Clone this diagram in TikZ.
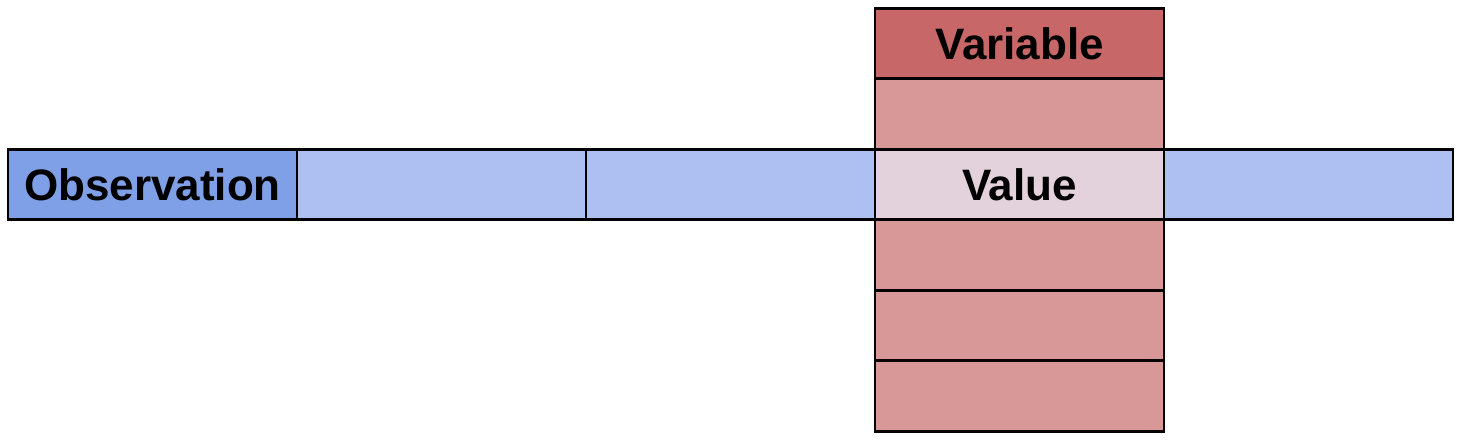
\documentclass[tikz,border=0pt]{standalone}
\usepackage{fontspec}
\setmainfont{Liberation Sans}
\usepackage{tikz}
\usetikzlibrary{positioning}
\definecolor{obsblue}{HTML}{7F9FE6}
\definecolor{rowblue}{HTML}{ADC0F1}
\definecolor{varred}{HTML}{C76767}
\definecolor{colred}{HTML}{D99898}
\definecolor{valpink}{HTML}{E3D1DB}

\begin{document}
\begin{tikzpicture}[
    x=1pt, y=1pt,
    cell/.style={draw=black, line width=2.6pt, outer sep=0pt, inner sep=0pt, minimum width=289pt, minimum height=70.5pt, font=\fontsize{44}{48}\selectfont\bfseries},
    rowcell/.style={cell, fill=rowblue},
    obscell/.style={cell, fill=obsblue},
    colcell/.style={cell, fill=colred},
    varcell/.style={cell, fill=varred},
    valcell/.style={cell, fill=valpink}
]
\useasboundingbox (0,0) rectangle (1460,-443);
% horizontal row: one observation
\node[obscell] (obs) at (152.5,-184.5) {Observation};
\node[rowcell, right=0pt of obs] (rowB) {};
\node[rowcell, right=0pt of rowB] (rowC) {};
\node[rowcell, right=0pt of rowC, draw=none, fill=none] (val) {};
\node[rowcell, right=0pt of val] (rowE) {};
% vertical column: one variable
\node[colcell, above=0pt of val] (colB) {};
\node[varcell, above=0pt of colB] (var) {Variable};
\node[colcell, below=0pt of val] (colD) {};
\node[colcell, below=0pt of colD] (colE) {};
\node[colcell, below=0pt of colE] (colF) {};
% crossing cell
\node[valcell] at (val) {Value};
\end{tikzpicture}
\end{document}
